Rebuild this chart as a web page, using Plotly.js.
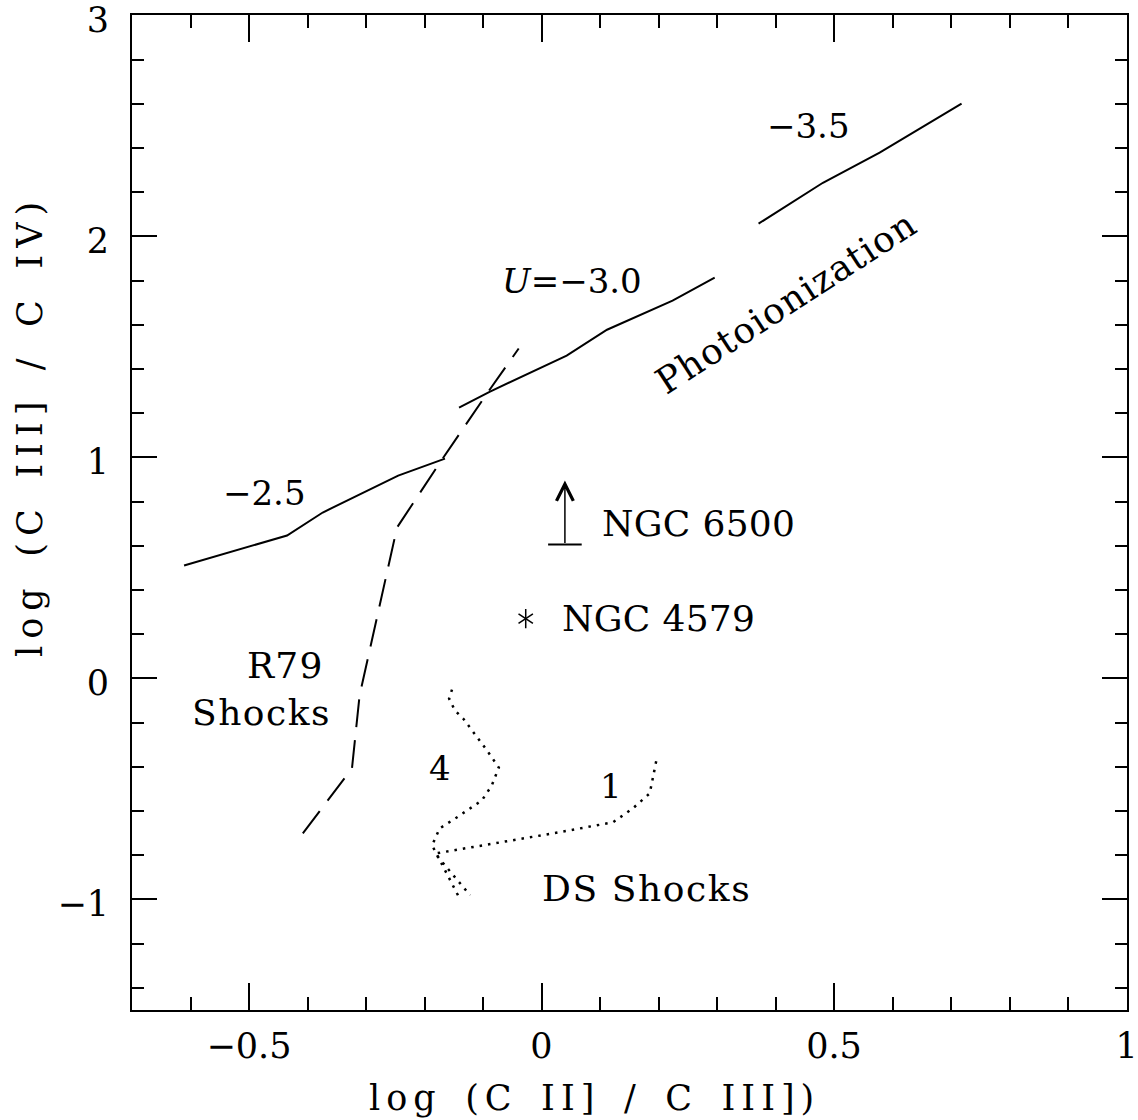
<!DOCTYPE html>
<html>
<head>
<meta charset="utf-8">
<script src="https://cdn.plot.ly/plotly-3.0.1.min.js"></script>
<style>html,body{margin:0;padding:0;background:#fff;}</style>
</head>
<body>
<div id="chart" style="width:1138px;height:1120px;"></div>
<script>
// Photoionization model track (three segments, U = -2.5 ... -3.5)
const photoSeg1X = [-0.611, -0.435, -0.374, -0.245, -0.165];
const photoSeg1Y = [0.511, 0.647, 0.751, 0.918, 0.995];
const photoSeg2X = [-0.141, -0.088, 0.043, 0.112, 0.224, 0.296];
const photoSeg2Y = [1.226, 1.298, 1.461, 1.578, 1.710, 1.814];
const photoSeg3X = [0.371, 0.481, 0.578, 0.718];
const photoSeg3Y = [2.058, 2.243, 2.379, 2.601];

// R79 shock models (dashed)
const r79X = [-0.408, -0.324, -0.311, -0.247, -0.169, -0.092, -0.039];
const r79Y = [-0.701, -0.407, -0.077, 0.683, 0.995, 1.294, 1.493];

// DS shock models (dotted), curves "4" and "1"
const ds4X = [-0.153, -0.158, -0.148, -0.134, -0.093, -0.073, -0.085, -0.102, -0.145, -0.174, -0.187, -0.140];
const ds4Y = [-0.050, -0.091, -0.145, -0.181, -0.326, -0.403, -0.484, -0.552, -0.629, -0.678, -0.755, -0.995];
const ds1X = [0.196, 0.185, 0.156, 0.122, 0.019, -0.105, -0.182, -0.122];
const ds1Y = [-0.375, -0.520, -0.588, -0.651, -0.701, -0.755, -0.792, -0.981];

// Objects
const ngc4579X = [-0.027];
const ngc4579Y = [0.271];
const ngc6500X = [0.040];
const ngc6500Y = [0.606];        // lower limit
const ngc6500ArrowTo = [0.896];  // arrow tip

// Text labels in the plot
const labelText = ["\u22123.5", "<i>U</i>=\u22123.0", "\u22122.5", "Photoionization", "NGC 6500", "NGC 4579", "R79", "Shocks", "4", "1", "DS Shocks"];
const labelX    = [0.457, 0.052, -0.473, 0.418, 0.100, 0.032, -0.438, -0.478, -0.174, 0.119, 0.180];
const labelY    = [2.501, 1.800, 0.841, 1.701, 0.701, 0.271, 0.059, -0.154, -0.407, -0.488, -0.950];
const labelAngle= [0, 0, 0, -33, 0, 0, 0, 0, 0, 0, 0];
const labelAnchor=["center","center","center","center","left","left","center","center","center","center","center"];
const labelSize = [34, 34, 34, 36, 36, 36, 36, 36, 34, 34, 36];
const labelSpacing = [0, 0, 0, 1.2, 0.3, 0.3, 1.2, 1.5, 0, 0, 1.6];

const xTitle = "log (C II] / C III])";
const yTitle = "log (C III] / C IV)";

const xTickVals = [-0.5, 0, 0.5, 1];
const xTickText = ["\u22120.5", "0", "0.5", "1"];
const yTickVals = [-1, 0, 1, 2, 3];
const yTickText = ["\u22121", "0", "1", "2", "3"];

const FONT = "DejaVu Serif, Liberation Serif, serif";
const lineStyle = {color: "#000", width: 2};

function spaced(t, ls) {
  return ls > 0 ? '<span style="letter-spacing:' + ls + 'px">' + t + '</span>' : t;
}
function wideSpaces(t) { return t.split(" ").join("\u2002"); }

const traces = [
  {x: photoSeg1X, y: photoSeg1Y, mode: "lines", line: lineStyle, hoverinfo: "skip"},
  {x: photoSeg2X, y: photoSeg2Y, mode: "lines", line: lineStyle, hoverinfo: "skip"},
  {x: photoSeg3X, y: photoSeg3Y, mode: "lines", line: lineStyle, hoverinfo: "skip"},
  {x: r79X, y: r79Y, mode: "lines", line: {color: "#000", width: 2, dash: "28px,13px"}, hoverinfo: "skip"},
  {x: ds4X, y: ds4Y, mode: "lines", line: {color: "#000", width: 2.5, dash: "2.5px,6px"}, hoverinfo: "skip"},
  {x: ds1X, y: ds1Y, mode: "lines", line: {color: "#000", width: 2.5, dash: "2.5px,6px"}, hoverinfo: "skip"},
  {x: ngc4579X, y: ngc4579Y, mode: "markers", marker: {symbol: "y-up-open", size: 12, line: {color: "#000", width: 1.5}, color: "#000"}},
  {x: ngc4579X, y: ngc4579Y, mode: "markers", marker: {symbol: "y-down-open", size: 12, line: {color: "#000", width: 1.5}, color: "#000"}},
  {x: ngc6500X, y: ngc6500Y, mode: "markers", marker: {symbol: "line-ew-open", size: 24, line: {color: "#000", width: 2}, color: "#000"}}
];

const annotations = labelText.map((t, i) => ({
  x: labelX[i], y: labelY[i], xref: "x", yref: "y", text: spaced(t, labelSpacing[i]), showarrow: false,
  textangle: labelAngle[i], xanchor: labelAnchor[i], yanchor: "middle",
  font: {family: FONT, size: labelSize[i], color: "#000"}
}));

annotations.push({
  x: ngc6500X[0], y: ngc6500ArrowTo[0], ax: ngc6500X[0], ay: ngc6500Y[0],
  xref: "x", yref: "y", axref: "x", ayref: "y", text: "",
  showarrow: true, arrowhead: 5, arrowsize: 2.2, arrowwidth: 1.5, arrowcolor: "#000", standoff: 0, startstandoff: 0
});

annotations.push({
  x: 0.465, y: -0.088, xref: "paper", yref: "paper", showarrow: false,
  text: spaced(wideSpaces(xTitle), 6), xanchor: "center", yanchor: "middle",
  font: {family: FONT, size: 35, color: "#000"}
});
annotations.push({
  x: -0.1025, y: 0.587, xref: "paper", yref: "paper", showarrow: false,
  text: spaced(wideSpaces(yTitle), 7), textangle: -90, xanchor: "center", yanchor: "middle",
  font: {family: FONT, size: 35, color: "#000"}
});

const axisCommon = {
  showline: true, linecolor: "#000", linewidth: 2, mirror: "ticks",
  ticks: "inside", tickcolor: "#000", tickwidth: 2,
  showgrid: false, zeroline: false, ticklabeloverflow: "allow",
  tickfont: {family: FONT, size: 35, color: "#000"},
  fixedrange: true
};

const layout = {
  width: 1138, height: 1120,
  margin: {l: 132, r: 11, t: 15, b: 110, pad: 0},
  paper_bgcolor: "#fff", plot_bgcolor: "#fff",
  showlegend: false,
  xaxis: Object.assign({}, axisCommon, {
    range: [-0.7, 1.0008], tickmode: "array", tickvals: xTickVals, ticktext: xTickText,
    ticklen: 27, ticklabelstandoff: 4,
    minor: {dtick: 0.1, tick0: 0, ticks: "inside", ticklen: 13, tickwidth: 2, tickcolor: "#000"}
  }),
  yaxis: Object.assign({}, axisCommon, {
    range: [-1.5, 3.002], tickmode: "array", tickvals: yTickVals, ticktext: yTickText,
    ticklen: 25, ticklabelstandoff: 14, ticklabelshift: 4,
    minor: {dtick: 0.2, tick0: 0, ticks: "inside", ticklen: 12, tickwidth: 2, tickcolor: "#000"}
  }),
  annotations: annotations
};

Plotly.newPlot("chart", traces, layout, {displayModeBar: false, staticPlot: true});
</script>
</body>
</html>
